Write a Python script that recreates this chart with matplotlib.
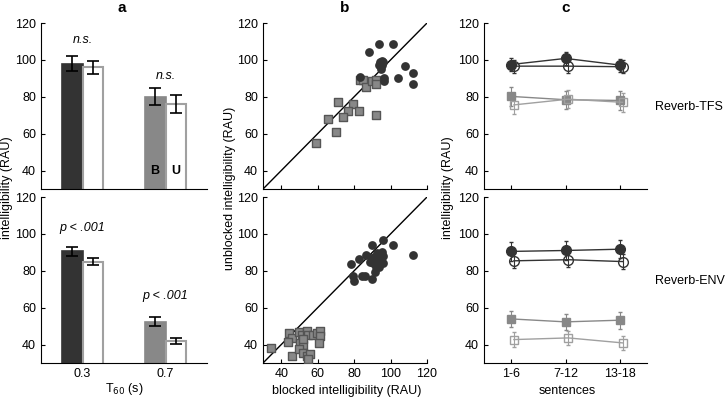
# Intelligibility figure: bars (a), blocked vs unblocked scatter (b), sentence blocks (c)
import matplotlib.pyplot as plt
import numpy as np

plt.rcParams['font.family'] = ['Liberation Sans', 'DejaVu Sans']
plt.rcParams['font.size'] = 9

dark = '#333333'
gray = '#888888'
light = '#a0a0a0'

## Panel a data (rows: Reverb-TFS, Reverb-ENV; T60 0.3 / 0.7)
t60_labels = ['0.3', '0.7']
tfs_blocked = [98, 80]
tfs_blocked_err = [4, 4.5]
tfs_unblocked = [96, 76]
tfs_unblocked_err = [3.5, 5]
env_blocked = [90.5, 52.5]
env_blocked_err = [2.5, 2.5]
env_unblocked = [85, 42]
env_unblocked_err = [2, 1.5]
tfs_stats = ['n.s.', 'n.s.']
tfs_stats_y = [111, 91]
env_stats = ['p < .001', 'p < .001']
env_stats_y = [103, 66.5]

## Panel b data (blocked x, unblocked y)
tfs_03_x = [88.2, 93.8, 101.3, 94.2, 96, 95.1, 94.6, 107.9, 112.5, 112.5, 104.3, 96.4, 96.4, 83.2, 93.5, 95.5]
tfs_03_y = [104.5, 108.4, 108.4, 99.1, 98.9, 97, 95.2, 96.7, 92.7, 87, 90.3, 90.3, 88.5, 90.7, 97.5, 99.5]
tfs_07_x = [83.2, 85, 86.4, 89.7, 92, 92, 71.3, 79.6, 76.8, 82.9, 73.7, 92, 65.8, 70.1, 59.3]
tfs_07_y = [88.9, 88.9, 85.4, 88.5, 88.9, 86.7, 77.4, 75.9, 72.1, 72.1, 69, 70.3, 67.9, 61, 55]
env_03_x = [96, 101.5, 90, 112.2, 86.5, 82.9, 78.1, 89.7, 92.4, 95.1, 96, 93.3, 90.5, 96, 92,
            91.5, 79.2, 79.9, 84.2, 86, 90, 93.8, 88.5, 91]
env_03_y = [96.8, 94.1, 94.1, 88.3, 88.6, 86.5, 83.6, 86.9, 89.9, 90.4, 88.1, 85.9, 84.2, 84.2, 82,
            79.6, 76.9, 74.2, 77.3, 77.3, 75.7, 82.3, 85, 87.5]
env_07_x = [34.4, 44.4, 46.1, 43.9, 45.8, 49.9, 51.2, 54, 54.9, 57.3, 59.5, 61.3, 61.3, 60.9, 50.3,
            52.1, 49.9, 52.1, 54, 55.8, 54.9, 52.1]
env_07_y = [38.2, 46, 43.6, 41.2, 33.7, 46.6, 45.4, 47.2, 45.4, 45.4, 46, 47.2, 44.9, 40.9, 40.9,
            40, 37.7, 35.5, 33.7, 34.9, 32.3, 43.1]

## Panel c data (sentence blocks)
sentences = ['1-6', '7-12', '13-18']
c_tfs_b03 = [97.5, 100.8, 97.2]
c_tfs_u03 = [96.6, 96.6, 96.3]
c_tfs_b07 = [80.2, 78.4, 78]
c_tfs_u07 = [75.6, 78.7, 77]
c_tfs_err = [3.5, 3.5, 5, 5]
c_env_b03 = [90.5, 91, 91.7]
c_env_u03 = [85.4, 86, 85]
c_env_b07 = [53.9, 52.3, 53.2]
c_env_u07 = [42.7, 43.6, 40.9]
c_env_err = [5, 4, 4.5, 4]

fig = plt.figure(figsize=(7.25, 4.0), dpi=100)

rows_y = [0.5275, 0.0925]
h = 0.415
ax_a = [fig.add_axes([0.0566, y, 0.229, h]) for y in rows_y]
ax_b = [fig.add_axes([0.3628, y, 0.2262, h]) for y in rows_y]
ax_c = [fig.add_axes([0.6676, y, 0.2248, h]) for y in rows_y]


def style(ax):
    ax.spines['top'].set_visible(False)
    ax.spines['right'].set_visible(False)
    ax.tick_params(direction='in', length=3, width=0.8)
    ax.set_ylim(30, 120)
    ax.set_yticks([40, 60, 80, 100, 120])


# Panel a bars
xpos = np.arange(1, 3)
w = 0.25
a_sets = [(tfs_blocked, tfs_blocked_err, tfs_unblocked, tfs_unblocked_err, tfs_stats, tfs_stats_y),
          (env_blocked, env_blocked_err, env_unblocked, env_unblocked_err, env_stats, env_stats_y)]
for ax, (b, be, u, ue, st, sty) in zip(ax_a, a_sets):
    ax.bar(xpos - w / 2, b, w, color=[dark, gray], edgecolor=[dark, gray], linewidth=1.2)
    ax.bar(xpos + w / 2, u, w, color='white', edgecolor=light, linewidth=1.5)
    ax.errorbar(xpos - w / 2, b, yerr=be, fmt='none', ecolor='black', capsize=4, elinewidth=1.2, capthick=1.2)
    ax.errorbar(xpos + w / 2, u, yerr=ue, fmt='none', ecolor='black', capsize=4, elinewidth=1.2, capthick=1.2)
    for x, s, y in zip(xpos, st, sty):
        ax.text(x, y, s, style='italic', ha='center', va='center', fontsize=9)
    style(ax)
    ax.set_xlim(0.5, 2.5)
    ax.set_xticks(xpos)
    ax.tick_params(axis='x', length=0)
ax_a[0].set_xticklabels([])
ax_a[1].set_xticklabels(t60_labels)
ax_a[0].text(2 - w / 2, 40, 'B', weight='bold', ha='center', va='center', fontsize=9)
ax_a[0].text(2 + w / 2, 40, 'U', weight='bold', ha='center', va='center', fontsize=9)

# Panel b scatter
b_sets = [(tfs_03_x, tfs_03_y, tfs_07_x, tfs_07_y), (env_03_x, env_03_y, env_07_x, env_07_y)]
for ax, (x3, y3, x7, y7) in zip(ax_b, b_sets):
    ax.plot([30, 120], [30, 120], color='black', linewidth=1)
    ax.scatter(x7, y7, s=28, marker='s', facecolor=gray, edgecolor='#555555', linewidth=1, zorder=3)
    ax.scatter(x3, y3, s=40, marker='o', color=dark, linewidth=0, zorder=3)
    style(ax)
    ax.set_xlim(30, 120)
    ax.set_xticks([40, 60, 80, 100, 120])
ax_b[0].set_xticklabels([])

# Panel c lines
cx = np.arange(1, 4)
off = 0.05
c_sets = [(c_tfs_b03, c_tfs_u03, c_tfs_b07, c_tfs_u07, c_tfs_err),
          (c_env_b03, c_env_u03, c_env_b07, c_env_u07, c_env_err)]
for ax, (b3, u3, b7, u7, err) in zip(ax_c, c_sets):
    ax.errorbar(cx, b7, yerr=err[2], color=gray, marker='s', markersize=6, mfc=gray, mec=gray,
                linewidth=1, elinewidth=0.8, capsize=1.5)
    ax.errorbar(cx + off, u7, yerr=err[3], color=light, marker='s', markersize=6, mfc='none', mec=light,
                linewidth=1, elinewidth=0.8, capsize=1.5)
    ax.errorbar(cx + off, u3, yerr=err[1], color=dark, marker='o', markersize=7, mfc='none', mec=dark,
                linewidth=1, elinewidth=0.8, capsize=1.5)
    ax.errorbar(cx, b3, yerr=err[0], color=dark, marker='o', markersize=7, mfc=dark, mec=dark,
                linewidth=1, elinewidth=0.8, capsize=1.5)
    style(ax)
    ax.set_xlim(0.5, 3.5)
    ax.set_xticks(cx)
ax_c[0].set_xticklabels([])
ax_c[1].set_xticklabels(sentences)

# Titles and shared labels
for x, t in [(122, 'a'), (345, 'b'), (566, 'c')]:
    fig.text(x / 725, 1 - 8 / 400, t, weight='bold', fontsize=11, ha='center', va='center')
fig.text(7 / 725, 1 - 188 / 400, 'intelligibility (RAU)', rotation=90, ha='center', va='center')
fig.text(230 / 725, 1 - 188 / 400, 'unblocked intelligibility (RAU)', rotation=90, ha='center', va='center')
fig.text(448 / 725, 1 - 188 / 400, 'intelligibility (RAU)', rotation=90, ha='center', va='center')
fig.text(124 / 725, 1 - 389 / 400, 'T$_{60}$ (s)', ha='center', va='center')
fig.text(347 / 725, 1 - 391 / 400, 'blocked intelligibility (RAU)', ha='center', va='center')
fig.text(567 / 725, 1 - 391 / 400, 'sentences', ha='center', va='center')
fig.text(655 / 725, 1 - 107 / 400, 'Reverb-TFS', ha='left', va='center')
fig.text(655 / 725, 1 - 281 / 400, 'Reverb-ENV', ha='left', va='center')

plt.savefig('out.png', dpi=100)
